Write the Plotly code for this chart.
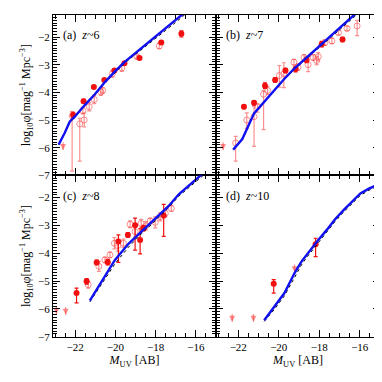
import plotly.graph_objects as go

# --- colours ---
COLOR_FILLED = "#F01010"
COLOR_OPEN = "rgba(250,70,70,0.6)"
COLOR_MODEL = "#1010F0"
FONT = "Liberation Serif, Times New Roman, serif"

# --- panel (a) z~6 ---
A_MODEL_X = [-22.82, -22.52, -22.27, -22.02, -21.52, -21.02, -20.52, -20.02, -19.52, -19.02, -18.52, -18.02, -17.52, -17.02, -16.68, -16.4]
A_MODEL_Y = [-5.89, -5.47, -5.06, -4.88, -4.46, -4.07, -3.63, -3.24, -2.89, -2.59, -2.28, -2.0, -1.69, -1.4, -1.19, -1.02]
A_DOT_Y = [-5.89, -5.47, -5.06, -4.9, -4.48, -4.09, -3.66, -3.28, -2.93, -2.64, -2.34, -2.07, -1.77, -1.48, -1.28, -1.1]
A_FILL_X = [-22.1, -21.58, -21.07, -20.55, -20.05, -19.55, -18.8, -17.72, -16.72]
A_FILL_Y = [-4.82, -4.32, -3.81, -3.55, -3.21, -2.95, -2.76, -2.2, -1.88]
A_FILL_UP = [0.1, 0.07, 0.05, 0.05, 0.05, 0.05, 0.05, 0.06, 0.1]
A_FILL_DN = [0.1, 0.07, 0.05, 0.05, 0.05, 0.05, 0.05, 0.06, 0.12]
A_OPEN_X = [-22.15, -21.77, -21.55, -21.62, -21.3, -21.05, -20.72, -20.63, -20.15, -19.68, -18.93, -17.82]
A_OPEN_Y = [-4.85, -5.14, -5.0, -4.66, -4.52, -4.26, -3.99, -3.93, -3.33, -3.12, -2.71, -2.32]
A_OPEN_UP = [0.15, 0.2, 0.25, 0.12, 0.15, 0.15, 0.12, 0.1, 0.12, 0.12, 0.06, 0.1]
A_OPEN_DN = [2.0, 1.35, 0.25, 0.12, 0.15, 0.15, 0.12, 0.1, 0.12, 0.12, 0.06, 0.1]
A_LIM_X = [-22.6]
A_LIM_Y = [-5.8]

# --- panel (b) z~7 ---
B_MODEL_X = [-22.25, -21.8, -21.22, -20.72, -20.22, -19.72, -19.22, -18.72, -18.22, -17.72, -17.22, -16.72, -16.3, -16.0]
B_MODEL_Y = [-6.07, -5.69, -4.76, -4.34, -3.93, -3.51, -3.13, -2.8, -2.47, -2.14, -1.81, -1.49, -1.21, -1.02]
B_DOT_Y = [-6.07, -5.69, -4.76, -4.34, -3.94, -3.53, -3.16, -2.84, -2.52, -2.2, -1.88, -1.57, -1.29, -1.1]
B_FILL_X = [-21.72, -21.22, -20.68, -20.18, -19.67, -19.17, -18.63, -17.88, -16.85]
B_FILL_Y = [-4.52, -4.38, -3.76, -3.55, -3.21, -3.16, -2.83, -2.26, -2.09]
B_FILL_UP = [0.07, 0.08, 0.1, 0.08, 0.08, 0.1, 0.1, 0.1, 0.08]
B_FILL_DN = [0.07, 0.08, 0.1, 0.08, 0.08, 0.1, 0.1, 0.1, 0.08]
B_OPEN_X = [-22.13, -21.58, -21.22, -21.05, -20.75, -20.55, -19.97, -19.75, -19.25, -19.05, -18.75, -18.55, -18.3, -18.13, -18.05, -17.72, -17.38, -17.05, -16.63, -16.13]
B_OPEN_Y = [-5.83, -5.0, -4.88, -4.52, -4.07, -3.93, -3.39, -3.33, -2.91, -3.09, -2.74, -3.0, -2.74, -2.85, -2.71, -2.2, -2.14, -1.84, -1.69, -1.6]
B_OPEN_UP = [0.24, 0.26, 0.36, 0.1, 0.14, 0.15, 0.36, 0.4, 0.1, 0.12, 0.1, 0.25, 0.1, 0.15, 0.15, 0.1, 0.1, 0.08, 0.08, 0.2]
B_OPEN_DN = [0.66, 0.3, 1.07, 0.2, 1.28, 0.15, 0.42, 0.5, 0.1, 0.12, 0.1, 0.25, 0.1, 0.15, 0.15, 0.1, 0.1, 0.08, 0.08, 0.35]
B_LIM_X = [-22.75]
B_LIM_Y = [-5.8]

# --- panel (c) z~8 ---
C_MODEL_X = [-21.27, -20.68, -20.02, -19.35, -18.68, -18.02, -17.35, -16.85, -16.3, -15.82, -15.6]
C_MODEL_Y = [-5.7, -5.01, -4.24, -3.66, -3.2, -2.78, -2.3, -1.88, -1.52, -1.22, -1.1]
C_DOT_Y = [-5.75, -5.12, -4.38, -3.78, -3.28, -2.84, -2.36, -1.95, -1.6, -1.3, -1.18]
C_FILL_X = [-21.93, -21.43, -20.93, -20.38, -19.85, -19.38, -19.02, -18.77, -18.6, -17.6]
C_FILL_Y = [-5.43, -5.01, -4.33, -4.32, -3.58, -3.34, -2.99, -3.52, -3.1, -2.64]
C_FILL_UP = [0.18, 0.1, 0.08, 0.1, 0.24, 0.08, 0.25, 0.4, 0.1, 0.4]
C_FILL_DN = [0.35, 0.1, 0.08, 0.1, 0.75, 0.08, 0.9, 0.5, 0.1, 0.75]
C_OPEN_X = [-21.35, -20.82, -20.52, -20.27, -20.05, -19.88, -19.6, -19.27, -19.02, -18.72, -18.48, -18.27, -18.02, -17.77, -17.52, -17.22]
C_OPEN_Y = [-5.13, -4.47, -4.24, -4.06, -3.64, -3.72, -3.64, -2.96, -3.22, -2.93, -3.01, -2.84, -2.89, -2.69, -2.57, -2.39]
C_OPEN_UP = [0.12, 0.18, 0.1, 0.1, 0.2, 0.2, 0.15, 0.12, 0.2, 0.15, 0.15, 0.1, 0.2, 0.15, 0.12, 0.1]
C_OPEN_DN = [0.12, 0.18, 0.1, 0.1, 0.2, 0.2, 0.15, 0.12, 0.2, 0.15, 0.15, 0.1, 0.2, 0.15, 0.12, 0.1]
C_LIM_X = [-22.93, -22.47]
C_LIM_Y = [-5.9, -5.93]

# --- panel (d) z~10 ---
D_MODEL_X = [-20.72, -20.22, -19.72, -19.47, -19.22, -18.88, -18.63, -18.3, -18.05, -17.63, -17.22, -16.8, -16.38, -15.97, -15.55, -15.05]
D_MODEL_Y = [-6.41, -5.94, -5.43, -5.07, -4.71, -4.3, -4.06, -3.76, -3.52, -3.16, -2.78, -2.45, -2.13, -1.85, -1.68, -1.52]
D_DOT_Y = [-6.45, -6.02, -5.53, -5.19, -4.83, -4.42, -4.16, -3.86, -3.61, -3.25, -2.86, -2.52, -2.2, -1.92, -1.74, -1.56]
D_FILL_X = [-20.25, -18.18]
D_FILL_Y = [-5.1, -3.68]
D_FILL_UP = [0.15, 0.22]
D_FILL_DN = [0.33, 0.44]
D_OPEN_X = []
D_OPEN_Y = []
D_OPEN_UP = []
D_OPEN_DN = []
D_LIM_X = [-22.3, -21.25, -19.22]
D_LIM_Y = [-6.18, -6.18, -4.4]

LABELS = ["(a)  <i>z</i>~6", "(b)  <i>z</i>~7", "(c)  <i>z</i>~8", "(d)  <i>z</i>~10"]
ARROW_LEN = 0.28

X_RANGE = [-23.1, -15.0]
Y_RANGE = [-7.0, -1.2]

W = 382
XDOM = [[45 / W, 208 / W], [208 / W, 372 / W]]
YDOM = [[(W - 170) / W, (W - 7) / W], [(W - 334) / W, (W - 170) / W]]

panels = [
    (A_MODEL_X, A_MODEL_Y, A_DOT_Y, A_FILL_X, A_FILL_Y, A_FILL_UP, A_FILL_DN,
     A_OPEN_X, A_OPEN_Y, A_OPEN_UP, A_OPEN_DN, A_LIM_X, A_LIM_Y),
    (B_MODEL_X, B_MODEL_Y, B_DOT_Y, B_FILL_X, B_FILL_Y, B_FILL_UP, B_FILL_DN,
     B_OPEN_X, B_OPEN_Y, B_OPEN_UP, B_OPEN_DN, B_LIM_X, B_LIM_Y),
    (C_MODEL_X, C_MODEL_Y, C_DOT_Y, C_FILL_X, C_FILL_Y, C_FILL_UP, C_FILL_DN,
     C_OPEN_X, C_OPEN_Y, C_OPEN_UP, C_OPEN_DN, C_LIM_X, C_LIM_Y),
    (D_MODEL_X, D_MODEL_Y, D_DOT_Y, D_FILL_X, D_FILL_Y, D_FILL_UP, D_FILL_DN,
     D_OPEN_X, D_OPEN_Y, D_OPEN_UP, D_OPEN_DN, D_LIM_X, D_LIM_Y),
]

fig = go.Figure()
layout = {}
annotations = []

for i, p in enumerate(panels):
    (mx, my, dy, fx, fy, fup, fdn, ox, oy, oup, odn, lx, ly) = p
    n = "" if i == 0 else str(i + 1)
    xa, ya = "x" + n, "y" + n
    col, row = i % 2, i // 2

    # open symbols (lighter)
    fig.add_trace(go.Scatter(
        x=ox, y=oy, mode="markers", xaxis=xa, yaxis=ya, showlegend=False,
        marker=dict(symbol="circle-open", size=6, color=COLOR_OPEN, line=dict(width=1)),
        error_y=dict(type="data", symmetric=False, array=oup, arrayminus=odn,
                     color=COLOR_OPEN, thickness=1.2, width=2),
    ))
    # filled symbols
    fig.add_trace(go.Scatter(
        x=fx, y=fy, mode="markers", xaxis=xa, yaxis=ya, showlegend=False,
        marker=dict(symbol="circle", size=6, color=COLOR_FILLED),
        error_y=dict(type="data", symmetric=False, array=fup, arrayminus=fdn,
                     color=COLOR_FILLED, thickness=1.2, width=2),
    ))
    # upper limits: shaft + arrowhead
    sx, sy = [], []
    for x0, y0 in zip(lx, ly):
        sx += [x0, x0, None]
        sy += [y0, y0 - ARROW_LEN, None]
    fig.add_trace(go.Scatter(
        x=sx, y=sy, mode="lines", xaxis=xa, yaxis=ya, showlegend=False,
        line=dict(color=COLOR_OPEN, width=1.2),
    ))
    fig.add_trace(go.Scatter(
        x=lx, y=[v - ARROW_LEN for v in ly], mode="markers", xaxis=xa, yaxis=ya,
        showlegend=False,
        marker=dict(symbol="arrow-down", size=6, color=COLOR_OPEN,
                    line=dict(width=0)),
    ))
    # models
    fig.add_trace(go.Scatter(
        x=mx, y=dy, mode="lines", xaxis=xa, yaxis=ya, showlegend=False,
        line=dict(color="black", width=1, dash="dot"),
    ))
    fig.add_trace(go.Scatter(
        x=mx, y=my, mode="lines", xaxis=xa, yaxis=ya, showlegend=False,
        line=dict(color=COLOR_MODEL, width=2.4),
    ))

    common = dict(showline=True, linecolor="black", linewidth=1.3, mirror="allticks",
                  ticks="inside", tickcolor="black", tickwidth=1.2, showgrid=False,
                  zeroline=False, tickfont=dict(family=FONT, size=11, color="black"))
    layout["xaxis" + n] = dict(
        common, domain=XDOM[col], range=X_RANGE, anchor=ya, dtick=2, tick0=0,
        ticklen=7, showticklabels=(row == 1),
        minor=dict(dtick=0.5, ticklen=4, ticks="inside", tickcolor="black", tickwidth=1),
        title=dict(text="<i>M</i><sub>UV</sub> [AB]", standoff=2,
                   font=dict(family=FONT, size=12, color="black")) if row == 1 else None,
    )
    layout["yaxis" + n] = dict(
        common, domain=YDOM[row], range=Y_RANGE, anchor=xa, dtick=1, tick0=0,
        ticklen=7, showticklabels=(col == 0),
        minor=dict(dtick=0.1, ticklen=3.5, ticks="inside", tickcolor="black", tickwidth=1),
        title=dict(text="log<sub>10</sub>φ[mag<sup>−1</sup> Mpc<sup>−3</sup>]", standoff=4,
                   font=dict(family=FONT, size=12, color="black")) if col == 0 else None,
    )
    annotations.append(dict(
        text=LABELS[i], xref=xa + " domain", yref=ya + " domain", x=0.05, y=0.875,
        xanchor="left", yanchor="middle", showarrow=False,
        font=dict(family=FONT, size=12, color="black"),
    ))

fig.update_layout(
    **layout,
    annotations=annotations,
    width=382, height=382,
    margin=dict(l=0, r=0, t=0, b=0),
    paper_bgcolor="white", plot_bgcolor="white",
    font=dict(family=FONT, color="black"),
    showlegend=False,
)

fig.write_html("out.html")
